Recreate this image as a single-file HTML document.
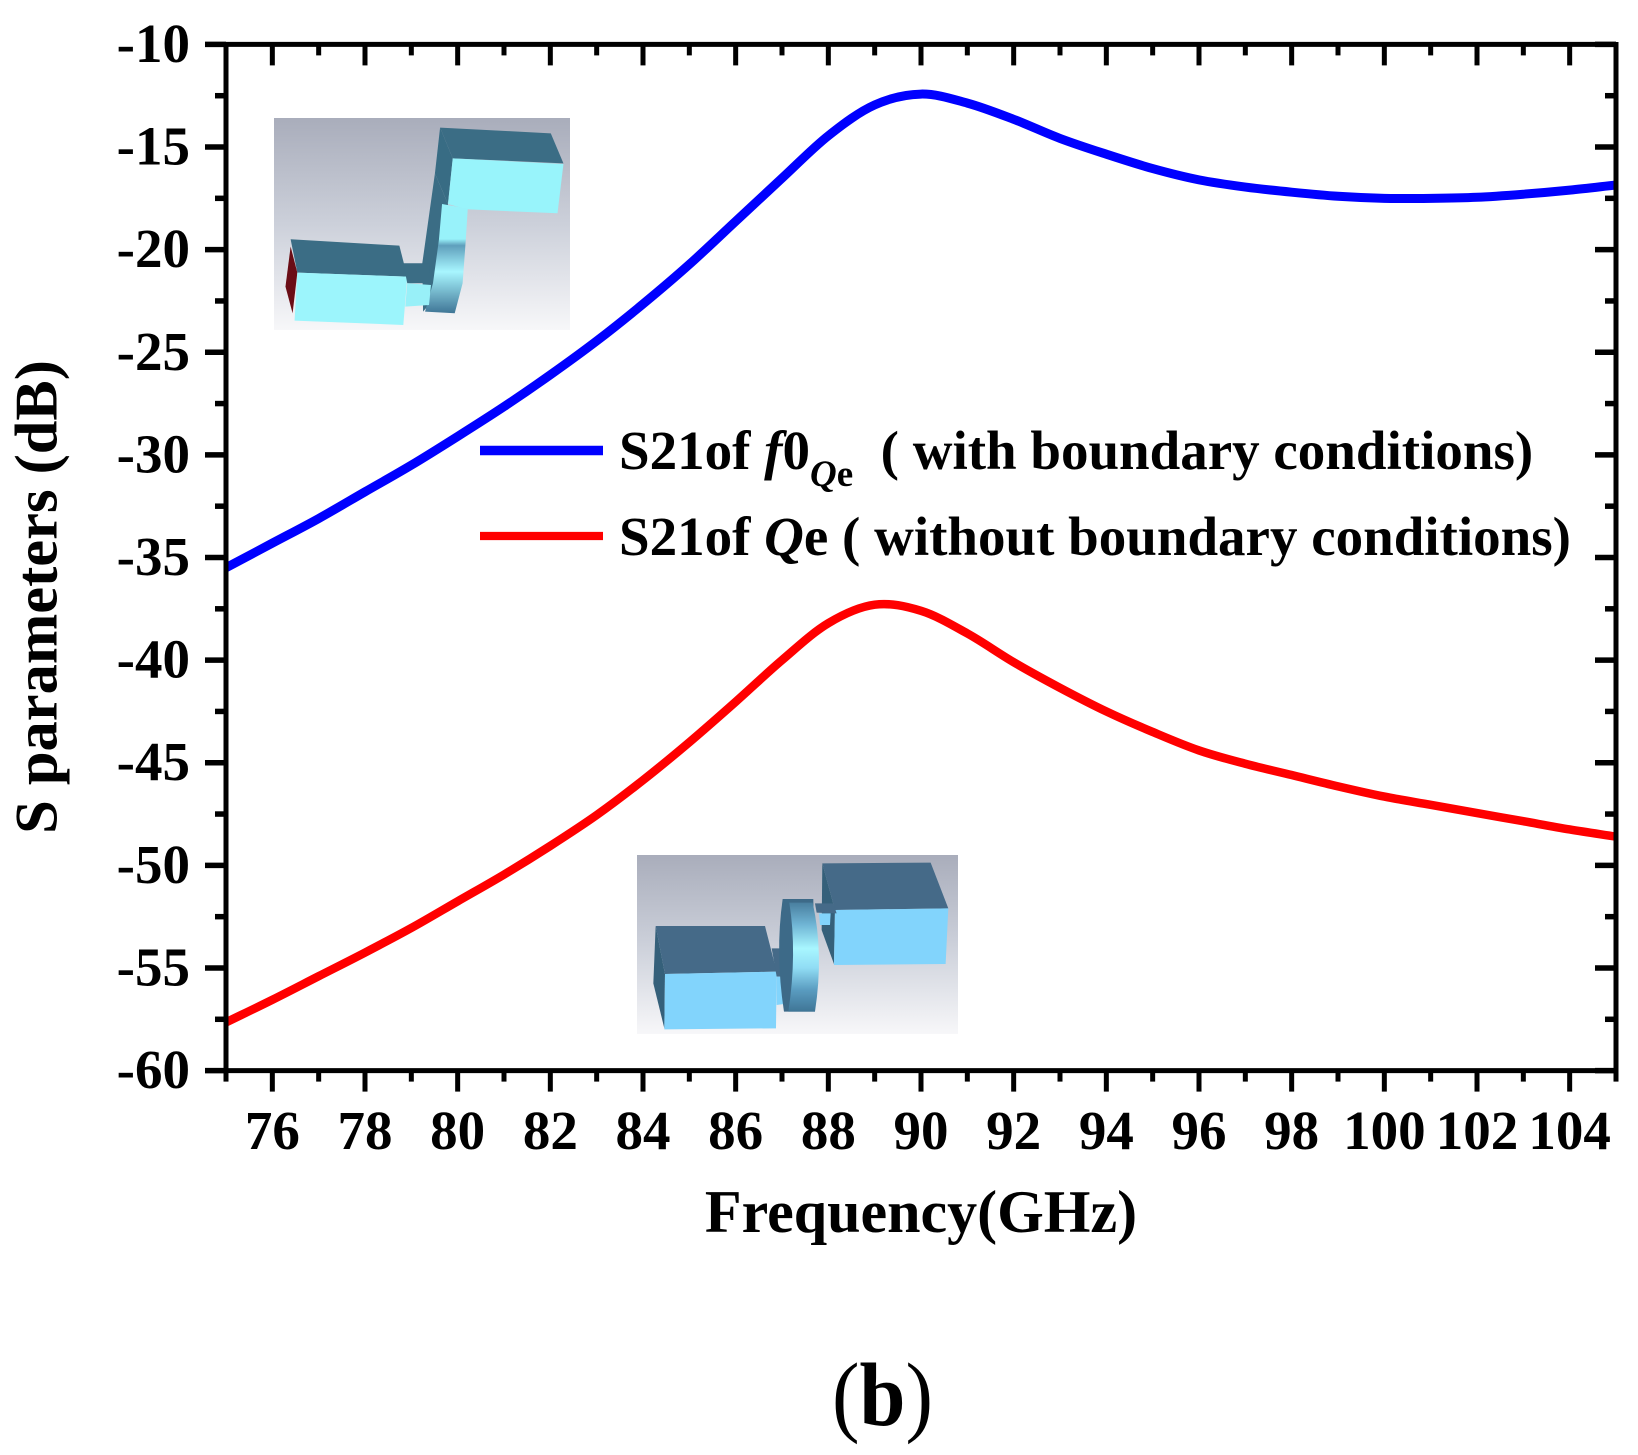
<!DOCTYPE html>
<html lang="en">
<head>
<meta charset="utf-8">
<title>S parameters chart</title>
<style>
html,body{margin:0;padding:0;background:#fff;}
svg{display:block;font-family:"Liberation Serif",serif;font-weight:bold;}
</style>
</head>
<body>
<svg id="chart" xmlns="http://www.w3.org/2000/svg" width="1638" height="1455" viewBox="0 0 1638 1455">
  <defs>
    <linearGradient id="bg1" x1="0" y1="0" x2="0" y2="1"><stop offset="0" stop-color="#a9adbb"/><stop offset="0.5" stop-color="#ccd0da"/><stop offset="1" stop-color="#f7f7f9"/></linearGradient>
    <linearGradient id="ring" x1="0" y1="0" x2="0" y2="1"><stop offset="0" stop-color="#4a7f9f"/><stop offset="0.2" stop-color="#6fb4d4"/><stop offset="0.42" stop-color="#a8f6ff"/><stop offset="0.6" stop-color="#90dcf4"/><stop offset="0.8" stop-color="#5a9cc0"/><stop offset="1" stop-color="#3f7596"/></linearGradient>
    <linearGradient id="ring1" x1="0" y1="0" x2="0" y2="1"><stop offset="0" stop-color="#98f2fa"/><stop offset="0.32" stop-color="#98f2fa"/><stop offset="0.38" stop-color="#5f9fbc"/><stop offset="0.62" stop-color="#a8f6ff"/><stop offset="1" stop-color="#3f7596"/></linearGradient>
    <filter id="soft" x="-5%" y="-5%" width="110%" height="110%"><feGaussianBlur stdDeviation="1"/></filter>
    <clipPath id="plot-clip"><rect x="226" y="44" width="1390" height="1027"/></clipPath>
  </defs>

  <g>
    <rect x="274" y="118" width="296" height="212" fill="url(#bg1)"/>
    <g transform="scale(0.3954 0.3333)" filter="url(#soft)">
      <polygon fill="#396c84" points="1113,383 1145,475 1133,612 1100,520"/>
      <polygon fill="#3a6d85" points="1113,383 1393,400 1425,490 1145,475"/>
      <polygon fill="#98f4fb" points="1145,475 1425,492 1410,640 1180,628 1133,612"/>
      <polygon fill="#3a6d85" points="1100,520 1133,612 1095,900 1070,935 1068,790"/>
      <polygon fill="url(#ring1)" points="1118,612 1183,626 1178,720 1170,850 1150,940 1075,935 1095,850 1110,720"/>
      <polygon fill="#3a6d85" points="735,718 1010,737 1030,830 752,818"/>
      <polygon fill="#6b0f12" points="735,740 752,818 740,940 722,860"/>
      <polygon fill="#9cf5fc" points="752,818 1030,830 1020,975 745,962"/>
      <polygon fill="#3a6d85" points="1020,790 1085,790 1090,850 1030,850"/>
      <polygon fill="#98f0f8" points="1030,850 1090,855 1085,915 1025,920"/>
    </g>
  </g>

  <g>
    <rect x="637" y="855" width="321" height="179" fill="url(#bg1)"/>
    <g transform="translate(620 840) scale(0.3333)" filter="url(#soft)">
      <polygon fill="#35607a" points="107,258 135,402 133,565 100,430"/>
      <polygon fill="#446b88" points="107,258 435,258 470,395 135,402"/>
      <polygon fill="#82d4fc" points="135,402 470,395 468,565 133,568"/>
      <polygon fill="#35607a" points="607,70 645,210 642,372 605,270"/>
      <polygon fill="#446b88" points="607,70 932,68 985,205 645,210"/>
      <polygon fill="#82d4fc" points="645,210 985,205 977,372 642,375"/>
      <polygon fill="#446b88" points="585,190 640,190 650,220 590,218"/>
      <polygon fill="#82d4fc" points="597,220 632,220 630,255 600,255"/>
      <polygon fill="#446b88" points="455,325 480,325 505,410 470,410"/>
      <polygon fill="#82d4fc" points="470,410 505,410 505,490 470,495"/>
      <path fill="#3d6a88" d="M488,177 L580,177 L585,515 L492,515 Q465,340 488,177 Z"/>
      <path fill="url(#ring)" d="M508,188 L578,188 Q612,340 585,515 L505,515 Q532,340 508,188 Z"/>
    </g>
  </g>

  <g id="curves" clip-path="url(#plot-clip)"></g>
  <g id="axes"></g>
  <g id="labels"></g>

  <g>
    <g>
      <line x1="480" y1="450.5" x2="603" y2="450.5" stroke="#0000ff" stroke-width="9.5"/>
      <text x="619" y="469" font-size="55">S21of <tspan font-style="italic">f</tspan>0<tspan font-size="37" dy="17" font-style="italic">Q</tspan><tspan font-size="37">e</tspan><tspan dy="-17" xml:space="preserve">  ( with boundary conditions)</tspan></text>
    </g>
    <g>
      <line x1="480" y1="536" x2="603" y2="536" stroke="#ff0000" stroke-width="8.3"/>
      <text x="619" y="555" font-size="55">S21of <tspan font-style="italic">Q</tspan>e ( without boundary conditions)</text>
    </g>
  </g>

  <text x="921" y="1232" font-size="60" text-anchor="middle">Frequency(GHz)</text>
  <text transform="translate(56.7 597) rotate(-90)" font-size="60.5" text-anchor="middle">S parameters (dB)</text>
  <text x="832" y="1425" font-size="90" textLength="101" lengthAdjust="spacingAndGlyphs"><tspan font-weight="normal">(</tspan>b<tspan font-weight="normal">)</tspan></text>

<script>
const frequencies = [75, 76, 77, 78, 79, 80, 81, 82, 83, 84, 85, 86, 87, 88, 89, 90, 91, 92, 93, 94, 95, 96, 97, 98, 99, 100, 101, 102, 103, 104, 105];
const s21With = [-35.5, -34.3, -33.1, -31.8, -30.5, -29.1, -27.65, -26.1, -24.45, -22.65, -20.72, -18.62, -16.52, -14.45, -12.95, -12.42, -12.86, -13.65, -14.58, -15.35, -16.05, -16.6, -16.95, -17.2, -17.4, -17.5, -17.5, -17.45, -17.3, -17.1, -16.85];
const s21Without = [-57.65, -56.55, -55.4, -54.25, -53.05, -51.75, -50.45, -49.05, -47.55, -45.85, -44.0, -42.03, -40.0, -38.2, -37.3, -37.6, -38.7, -40.1, -41.35, -42.5, -43.5, -44.4, -45.05, -45.6, -46.15, -46.65, -47.05, -47.45, -47.85, -48.25, -48.6];
const xTickValues = [76, 78, 80, 82, 84, 86, 88, 90, 92, 94, 96, 98, 100, 102, 104];
const xMinorValues = [75, 77, 79, 81, 83, 85, 87, 89, 91, 93, 95, 97, 99, 101, 103, 105];
const yTickValues = [-10, -15, -20, -25, -30, -35, -40, -45, -50, -55, -60];
const yMinorValues = [-12.5, -17.5, -22.5, -27.5, -32.5, -37.5, -42.5, -47.5, -52.5, -57.5];

const NS = 'http://www.w3.org/2000/svg';
const PLOT = {left: 226, right: 1616, top: 44.4, bottom: 1070.6};
const xScale = function (f) { return PLOT.left + (f - 75) / 30 * (PLOT.right - PLOT.left); };
const yScale = function (d) { return PLOT.top + (-10 - d) / 50 * (PLOT.bottom - PLOT.top); };

function smoothPath(xs, ys) {
  const px = xs.map(xScale);
  const py = ys.map(yScale);
  let d = 'M' + px[0] + ' ' + py[0];
  for (let i = 0; i < px.length - 1; i++) {
    const a = Math.max(i - 1, 0);
    const b = Math.min(i + 2, px.length - 1);
    const h = px[i + 1] - px[i];
    const m0 = (py[i + 1] - py[a]) / (px[i + 1] - px[a]);
    const m1 = (py[b] - py[i]) / (px[b] - px[i]);
    d += 'C' + (px[i] + h / 3) + ' ' + (py[i] + m0 * h / 3) + ' ' + (px[i + 1] - h / 3) + ' ' + (py[i + 1] - m1 * h / 3) + ' ' + px[i + 1] + ' ' + py[i + 1];
  }
  return d;
}

const curves = document.getElementById('curves');
const axes = document.getElementById('axes');
const labels = document.getElementById('labels');

const blueCurve = document.createElementNS(NS, 'path');


blueCurve.setAttribute('d', smoothPath(frequencies, s21With));
blueCurve.setAttribute('fill', 'none');
blueCurve.setAttribute('stroke', '#0000ff');
blueCurve.setAttribute('stroke-width', '9');
curves.appendChild(blueCurve);

const redCurve = document.createElementNS(NS, 'path');


redCurve.setAttribute('d', smoothPath(frequencies, s21Without));
redCurve.setAttribute('fill', 'none');
redCurve.setAttribute('stroke', '#ff0000');
redCurve.setAttribute('stroke-width', '8.5');
curves.appendChild(redCurve);

function addRule(x1, y1, x2, y2, w, name) {
  const l = document.createElementNS(NS, 'line');
  
  
  l.setAttribute('x1', x1);
  l.setAttribute('y1', y1);
  l.setAttribute('x2', x2);
  l.setAttribute('y2', y2);
  l.setAttribute('stroke', '#000');
  l.setAttribute('stroke-width', w);
  axes.appendChild(l);
}

function addLabel(x, y, anchor, str, name) {
  const t = document.createElementNS(NS, 'text');
  
  
  t.setAttribute('x', x);
  t.setAttribute('y', y);
  t.setAttribute('text-anchor', anchor);
  t.setAttribute('font-size', '55');
  t.textContent = str;
  labels.appendChild(t);
}

addRule(PLOT.left, PLOT.top - 2.4, PLOT.left, PLOT.bottom + 2.4, 5, 'left-axis-line');
addRule(PLOT.right, PLOT.top - 2.4, PLOT.right, PLOT.bottom + 2.4, 5, 'right-axis-line');
addRule(PLOT.left, PLOT.top, PLOT.right, PLOT.top, 5, 'top-axis-line');
addRule(PLOT.left, PLOT.bottom, PLOT.right, PLOT.bottom, 5, 'bottom-axis-line');

xTickValues.forEach(function (v) {
  const x = xScale(v);
  addRule(x, PLOT.bottom, x, PLOT.bottom + 21, 5, 'x-major-tick-bottom');
  addRule(x, PLOT.top, x, PLOT.top + 21, 5, 'x-major-tick-top');
  addLabel(x, 1149, 'middle', String(v), 'x-tick-label');
});
xMinorValues.forEach(function (v) {
  const x = xScale(v);
  addRule(x, PLOT.bottom, x, PLOT.bottom + 11, 5, 'x-minor-tick-bottom');
  addRule(x, PLOT.top, x, PLOT.top + 11, 5, 'x-minor-tick-top');
});
yTickValues.forEach(function (v) {
  const y = yScale(v);
  addRule(PLOT.left - 21, y, PLOT.left, y, 5.5, 'y-major-tick-left');
  addRule(PLOT.right - 21, y, PLOT.right, y, 5.5, 'y-major-tick-right');
  addLabel(190, y + 17.5, 'end', String(v), 'y-tick-label');
});
yMinorValues.forEach(function (v) {
  const y = yScale(v);
  addRule(PLOT.left - 11, y, PLOT.left, y, 5.5, 'y-minor-tick-left');
  addRule(PLOT.right - 11, y, PLOT.right, y, 5.5, 'y-minor-tick-right');
});
</script>
</svg>
</body>
</html>
